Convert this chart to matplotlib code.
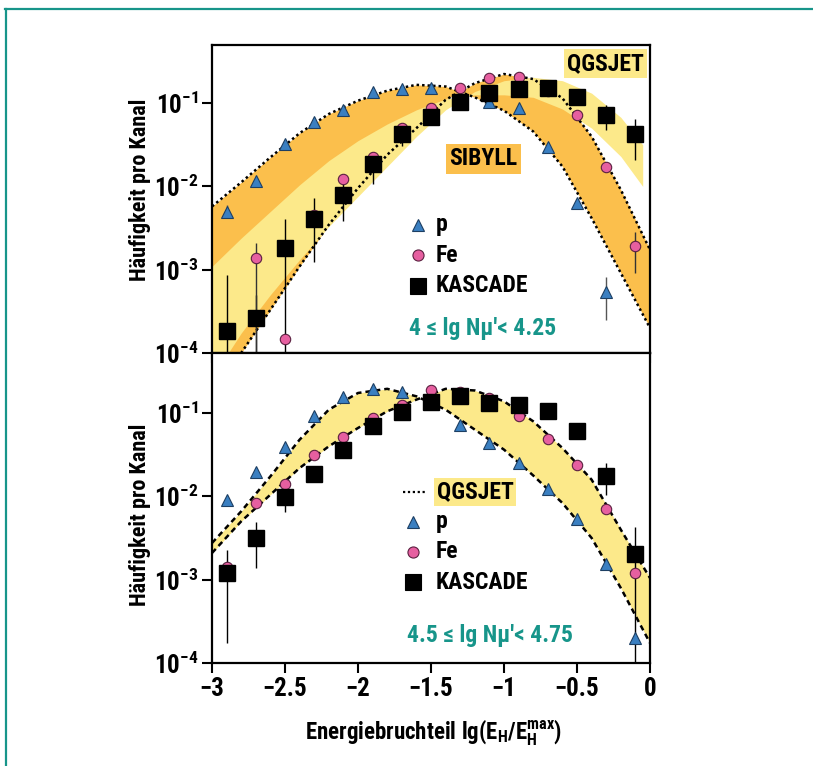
import numpy as np
import matplotlib
matplotlib.use("Agg")
import matplotlib.pyplot as plt
from matplotlib import font_manager
from matplotlib.lines import Line2D
from matplotlib.ticker import FixedLocator, NullLocator

# --- data -------------------------------------------------------------
# measured / simulated bins, lg(E_H/E_H^max)
x_pts = [-2.9, -2.7, -2.5, -2.3, -2.1, -1.9, -1.7, -1.5, -1.3, -1.1, -0.9, -0.7, -0.5, -0.3, -0.1]
nan = float("nan")

# upper panel: 4 <= lg Nmu' < 4.25
top_p = [5.0e-3, 0.0117, 0.032, 0.059, 0.082, 0.135, 0.15, 0.153, 0.105, 0.104, 0.0865, 0.0294, 6.3e-3, 5.4e-4, nan]
top_fe = [nan, 1.4e-3, 1.47e-4, 4.5e-3, 0.0122, 0.0228, 0.0498, 0.088, 0.151, 0.199, 0.204, 0.14, 0.073, 0.0173, 1.9e-3]
top_kas = [1.84e-4, 2.66e-4, 1.84e-3, 4.1e-3, 8.0e-3, 0.0184, 0.043, 0.068, 0.104, 0.131, 0.148, 0.151, 0.119, 0.073, 0.043]
top_kas_hi = [8.6e-4, 5.0e-4, 4.1e-3, 7.2e-3, 0.0119, 0.024, 0.05, 0.075, 0.112, 0.14, 0.16, 0.165, 0.135, 0.095, 0.064]
top_kas_lo = [1e-5, 1e-5, 1e-5, 1.25e-3, 3.8e-3, 0.0107, 0.031, 0.06, 0.096, 0.122, 0.137, 0.138, 0.1, 0.0475, 0.0207]
top_p_hi = [6.0e-3, 0.013, 0.034, 0.062, 0.086, 0.14, 0.155, 0.158, 0.11, 0.108, 0.09, 0.031, 7.0e-3, 8.2e-4, nan]
top_p_lo = [4.2e-3, 0.0105, 0.03, 0.056, 0.078, 0.13, 0.145, 0.148, 0.1, 0.1, 0.083, 0.0278, 5.7e-3, 2.5e-4, nan]
top_fe_hi = [nan, 2.07e-3, 1.6e-4, 4.8e-3, 0.013, 0.024, 0.052, 0.092, 0.156, 0.205, 0.21, 0.145, 0.077, 0.019, 2.86e-3]
top_fe_lo = [nan, 1e-5, 1.3e-4, 4.2e-3, 0.0115, 0.0215, 0.047, 0.084, 0.146, 0.193, 0.198, 0.135, 0.069, 0.0158, 9.1e-4]

# model curves, upper panel (log10 of frequency)
x_curve = [-3.0, -2.8, -2.6, -2.4, -2.2, -2.0, -1.8, -1.6, -1.4, -1.2, -1.0, -0.8, -0.6, -0.4, -0.2, 0.0]
sib_p_lg = [-2.24, -1.95, -1.65, -1.36, -1.13, -0.97, -0.85, -0.78, -0.80, -0.93, -1.09, -1.34, -1.76, -2.38, -3.04, -3.70]
sib_fe_lg = [-4.40, -4.00, -3.48, -2.96, -2.46, -2.02, -1.62, -1.30, -0.96, -0.76, -0.65, -0.71, -0.94, -1.40, -2.04, -2.76]
x_qgs = [-3.0, -2.8, -2.6, -2.4, -2.2, -2.0, -1.8, -1.6, -1.4, -1.2, -1.0, -0.8, -0.6, -0.4, -0.2, -0.05]
qgs_p_lg = [-2.96, -2.62, -2.30, -1.98, -1.69, -1.45, -1.25, -1.08, -0.95, -0.90, -0.90, -0.93, -1.07, -1.30, -1.64, -2.00]
qgs_fe_lg = [-4.30, -3.76, -3.30, -2.88, -2.48, -2.12, -1.76, -1.40, -1.08, -0.86, -0.73, -0.69, -0.73, -0.88, -1.17, -1.50]

# lower panel: 4.5 <= lg Nmu' < 4.75
bot_p = [9.1e-3, 0.0195, 0.039, 0.093, 0.156, 0.195, 0.181, 0.13, 0.072, 0.0433, 0.025, 0.0122, 5.4e-3, 1.55e-3, 1.98e-4]
bot_fe = [1.43e-3, 8.3e-3, 0.014, 0.031, 0.051, 0.086, 0.125, 0.19, 0.18, 0.15, 0.092, 0.049, 0.0238, 7.0e-3, 1.21e-3]
bot_kas = [1.19e-3, 3.19e-3, 9.7e-3, 0.0184, 0.036, 0.069, 0.102, 0.135, 0.162, 0.131, 0.123, 0.106, 0.060, 0.0177, 2.04e-3]
bot_kas_hi = [2.27e-3, 4.97e-3, 0.013, 0.021, 0.039, 0.073, 0.108, 0.142, 0.17, 0.138, 0.13, 0.112, 0.064, 0.025, 4.3e-3]
bot_kas_lo = [1.72e-4, 1.37e-3, 6.5e-3, 0.016, 0.033, 0.065, 0.096, 0.128, 0.154, 0.124, 0.116, 0.1, 0.056, 0.0104, 1e-5]
bot_qgs_p_lg = [-2.56, -2.18, -1.76, -1.32, -0.96, -0.76, -0.71, -0.80, -0.96, -1.20, -1.44, -1.75, -2.08, -2.50, -3.10, -3.76]
bot_qgs_fe_lg = [-2.68, -2.30, -1.98, -1.66, -1.40, -1.18, -0.98, -0.84, -0.71, -0.73, -0.86, -1.10, -1.42, -1.80, -2.40, -2.98]

xticks = [-3, -2.5, -2, -1.5, -1, -0.5, 0]
xtick_labels = ["\u22123", "\u22122.5", "\u22122", "\u22121.5", "\u22121", "\u22120.5", "0"]
yticks = [1e-4, 1e-3, 1e-2, 1e-1]
ytick_labels = [r"$10^{-4}$", r"$10^{-3}$", r"$10^{-2}$", r"$10^{-1}$"]

# --- font: look for a condensed bold face ------------------------------
fonts = font_manager.fontManager.ttflist
names = {f.name for f in fonts}
family = None
stretch = "normal"
for cand in ["Roboto Condensed", "Liberation Sans Narrow", "Open Sans Condensed",
             "Noto Sans Condensed", "DejaVu Sans Condensed", "Noto Sans SemiCondensed"]:
    if cand in names:
        family = cand
        break
if family is None:
    for f in fonts:
        if "condensed" in str(f.stretch) and f.name in ("Noto Sans", "Open Sans", "Roboto",
                                                        "DejaVu Sans", "Inter", "Lato"):
            family = f.name
            stretch = "condensed"
            break
if family is None:
    family = "Liberation Sans"

plt.rcParams["font.family"] = [family, "DejaVu Sans"]
plt.rcParams["font.weight"] = "bold"
plt.rcParams["font.stretch"] = stretch
pat = family + ":bold" + (":condensed" if stretch == "condensed" else "")
plt.rcParams["mathtext.fontset"] = "custom"
plt.rcParams["mathtext.rm"] = pat
plt.rcParams["mathtext.it"] = pat
plt.rcParams["mathtext.bf"] = pat
plt.rcParams["mathtext.default"] = "rm"

ORANGE = "#fbbf4c"
YELLOW = "#fce98a"
BLUE = "#3a7fc1"
PINK = "#e65fa0"
TEAL = "#17958a"


def setup_axis(ax, ytop, show_xlabels):
    ax.set_yscale("log")
    ax.set_xlim(-3, 0)
    ax.set_ylim(1e-4, ytop)
    ax.yaxis.set_major_locator(FixedLocator(yticks))
    ax.yaxis.set_minor_locator(NullLocator())
    ax.set_yticklabels(ytick_labels)
    ax.set_xticks(xticks)
    if show_xlabels:
        ax.set_xticklabels(xtick_labels)
    else:
        ax.set_xticklabels([])
    ax.tick_params(direction="out", length=7, width=1.5, labelsize=18, pad=3)
    for s in ax.spines.values():
        s.set_linewidth(1.6)


def draw_points(ax, p, fe, kas, kas_lo, kas_hi, p_lo=None, p_hi=None, fe_lo=None, fe_hi=None):
    x = np.array(x_pts)
    kas = np.array(kas)
    ax.errorbar(x, kas, yerr=[kas - np.array(kas_lo), np.array(kas_hi) - kas],
                fmt="none", ecolor="k", elinewidth=1.0, zorder=4)
    if p_lo is not None:
        pa = np.array(p)
        ax.errorbar(x, pa, yerr=[pa - np.array(p_lo), np.array(p_hi) - pa],
                    fmt="none", ecolor="#555555", elinewidth=1.0, zorder=4)
    if fe_lo is not None:
        fa = np.array(fe)
        ax.errorbar(x, fa, yerr=[fa - np.array(fe_lo), np.array(fe_hi) - fa],
                    fmt="none", ecolor="#333333", elinewidth=1.0, zorder=4)
    ax.plot(x, p, ls="none", marker="^", ms=8.5, mfc=BLUE, mec="#1d3f63", mew=0.8, zorder=5)
    ax.plot(x, fe, ls="none", marker="o", ms=7.5, mfc=PINK, mec="#5a2040", mew=0.8, zorder=5)
    ax.plot(x, kas, ls="none", marker="s", ms=11.5, mfc="k", mec="k", zorder=6)


def legend_rows(ax, xm, xt, rows):
    for marker, ms, fc, ec, label, fy in rows:
        ax.plot([xm], [fy], marker=marker, ms=ms, mfc=fc, mec=ec, mew=0.8,
                transform=ax.transAxes, clip_on=False, zorder=7)
        ax.text(xt, fy, label, transform=ax.transAxes, fontsize=17,
                ha="left", va="center", zorder=7)


fig = plt.figure(figsize=(8.13, 7.66), dpi=100)
ax1 = fig.add_axes([0.2608, 0.5392, 0.5387, 0.4021])
ax2 = fig.add_axes([0.2608, 0.1345, 0.5387, 0.4047])

# --- upper panel ------------------------------------------------------
ax1.fill_between(x_curve, 10 ** np.array(sib_p_lg), 10 ** np.array(sib_fe_lg),
                 color=ORANGE, lw=0, zorder=1)
ax1.fill_between(x_qgs, 10 ** np.array(qgs_p_lg), 10 ** np.array(qgs_fe_lg),
                 color=YELLOW, lw=0, zorder=2)
ax1.plot(x_curve, 10 ** np.array(sib_p_lg), ls=(0, (1, 1.2)), color="k", lw=1.8, zorder=3)
ax1.plot(x_curve, 10 ** np.array(sib_fe_lg), ls=(0, (1, 1.2)), color="k", lw=1.8, zorder=3)
draw_points(ax1, top_p, top_fe, top_kas, top_kas_lo, top_kas_hi,
            top_p_lo, top_p_hi, top_fe_lo, top_fe_hi)
setup_axis(ax1, 0.5, False)

ax1.text(0.898, 0.94, "QGSJET", transform=ax1.transAxes, fontsize=17, ha="center", va="center",
         bbox=dict(boxstyle="square,pad=0.12", fc=YELLOW, ec="none"), zorder=8)
ax1.text(0.62, 0.63, "SIBYLL", transform=ax1.transAxes, fontsize=17, ha="center", va="center",
         bbox=dict(boxstyle="square,pad=0.15", fc=ORANGE, ec="none"), zorder=8)
legend_rows(ax1, 0.470, 0.511, [
    ("^", 9, BLUE, "#1d3f63", "p", 0.416),
    ("o", 8, PINK, "#5a2040", "Fe", 0.318),
    ("s", 12, "k", "k", "KASCADE", 0.218),
])
ax1.text(0.617, 0.081, "4 \u2264 lg N\u03bc'< 4.25", transform=ax1.transAxes, fontsize=17,
         color=TEAL, ha="center", va="center")

# --- lower panel ------------------------------------------------------
ax2.fill_between(x_curve, 10 ** np.array(bot_qgs_p_lg), 10 ** np.array(bot_qgs_fe_lg),
                 color=YELLOW, lw=0, zorder=1)
ax2.plot(x_curve, 10 ** np.array(bot_qgs_p_lg), ls=(0, (2.2, 1.6)), color="k", lw=1.8, zorder=3)
ax2.plot(x_curve, 10 ** np.array(bot_qgs_fe_lg), ls=(0, (2.2, 1.6)), color="k", lw=1.8, zorder=3)
draw_points(ax2, bot_p, bot_fe, bot_kas, bot_kas_lo, bot_kas_hi)
setup_axis(ax2, 0.525, True)

ax2.plot([0.436, 0.486], [0.552, 0.552], ls=(0, (1, 1.2)), color="k", lw=1.6,
         transform=ax2.transAxes, zorder=7)
ax2.text(0.513, 0.552, "QGSJET", transform=ax2.transAxes, fontsize=17, ha="left", va="center",
         bbox=dict(boxstyle="square,pad=0.12", fc=YELLOW, ec="none"), zorder=8)
legend_rows(ax2, 0.459, 0.511, [
    ("^", 9, BLUE, "#1d3f63", "p", 0.455),
    ("o", 8, PINK, "#5a2040", "Fe", 0.358),
    ("s", 12, "k", "k", "KASCADE", 0.261),
])
ax2.text(0.635, 0.090, "4.5 \u2264 lg N\u03bc'< 4.75", transform=ax2.transAxes, fontsize=17,
         color=TEAL, ha="center", va="center")

# --- labels -----------------------------------------------------------
fig.text(140 / 813, 1 - 190 / 766, "H\u00e4ufigkeit pro Kanal", rotation=90,
         fontsize=16, ha="center", va="center")
fig.text(140 / 813, 1 - 515 / 766, "H\u00e4ufigkeit pro Kanal", rotation=90,
         fontsize=16, ha="center", va="center")
fig.text(0.533, 0.043, r"Energiebruchteil lg(E$_{H}$/E$_{H}^{max}$)",
         fontsize=16.5, ha="center", va="center")

# teal frame around the figure
fig.add_artist(Line2D([6 / 813, 6 / 813], [0, 1 - 9 / 766], transform=fig.transFigure,
                      color=TEAL, lw=1.6))
fig.add_artist(Line2D([5 / 813, 1], [1 - 9 / 766, 1 - 9 / 766], transform=fig.transFigure,
                      color=TEAL, lw=1.6))

fig.savefig("out.png", dpi=100)
